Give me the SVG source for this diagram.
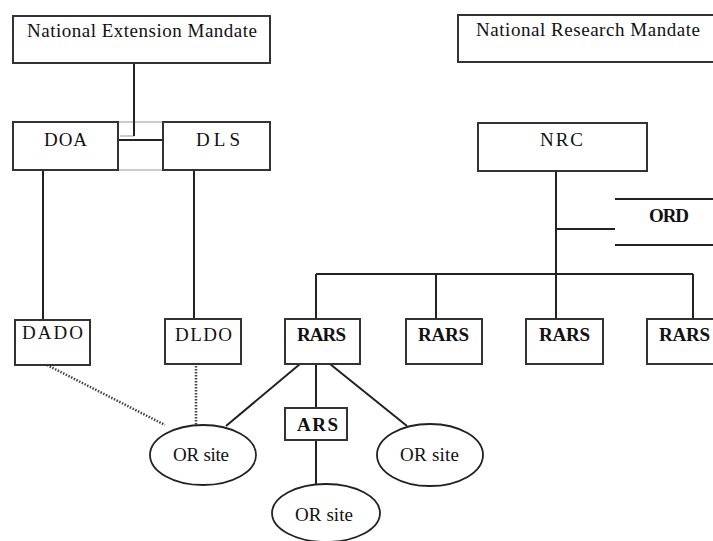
<svg xmlns="http://www.w3.org/2000/svg" width="713" height="541" viewBox="0 0 713 541">
<style>
.box{fill:#fff;stroke:#333;stroke-width:2}
.ell{fill:#fff;stroke:#222;stroke-width:1.8}
.ln{stroke:#222;stroke-width:2;fill:none}
.dot{stroke:#444;stroke-width:2.5;stroke-dasharray:1.5 1.5;fill:none}
.gr{stroke:#bbb;stroke-width:1.5;fill:none}
text{font-family:"Liberation Serif","DejaVu Serif","Times New Roman",serif;fill:#111}
.t{font-size:19px}
.b{font-size:19px;font-weight:bold}
</style>
<rect width="713" height="541" fill="#fff"/>
<g id="connectors">
<path class="gr" d="M118 122 H163 M118 170 H163 M120 136 H134"/>
<path class="ln" d="M134 63 V136 M118 140 H163"/>
<path class="ln" d="M43 170 V320 M194 170 V319"/>
<path class="ln" d="M556 171 V274 M556 229 H615 M316 274 H693 M316 274 V319 M436 274 V319 M556 274 V319 M693 274 V319"/>
<path class="ln" d="M316 364 V408 M316 440 V484 M300 364 L226 426 M330 364 L407 426"/>
<path class="dot" d="M47 365 L165 425 M196 366 V425"/>
</g>
<g id="nem"><rect class="box" x="13" y="16" width="257" height="47"/><text class="t" x="27" y="37" textLength="230" font-family="Liberation Serif, serif">National Extension Mandate</text></g>
<g id="nrm"><rect class="box" x="458" y="15" width="260" height="47"/><text class="t" x="476" y="36" textLength="224" font-family="Liberation Serif, serif">National Research Mandate</text></g>
<g id="doa"><rect class="box" x="13" y="122" width="105" height="48"/><text class="t" x="44" y="146" textLength="43" font-family="Liberation Serif, serif">DOA</text></g>
<g id="dls"><rect class="box" x="163" y="122" width="107" height="48"/><text class="t" x="196" y="146" textLength="44" font-family="Liberation Serif, serif">DLS</text></g>
<g id="nrc"><rect class="box" x="478" y="123" width="169" height="48"/><text class="t" x="540" y="146" textLength="43" font-family="Liberation Serif, serif">NRC</text></g>
<g id="ord"><path class="ln" d="M615 199 H713 M615 245 H713"/><text class="b" x="649" y="222" textLength="40" font-family="Liberation Serif, serif">ORD</text></g>
<g id="dado"><rect class="box" x="15" y="320" width="75" height="45"/><text class="t" x="22" y="339" textLength="61" font-family="Liberation Serif, serif">DADO</text></g>
<g id="dldo"><rect class="box" x="165" y="319" width="76" height="45"/><text class="t" x="175" y="341" textLength="57" font-family="Liberation Serif, serif">DLDO</text></g>
<g id="rars1"><rect class="box" x="285" y="319" width="75" height="45"/><text class="b" x="297" y="341" textLength="49" font-family="Liberation Serif, serif">RARS</text></g>
<g id="rars2"><rect class="box" x="406" y="319" width="76" height="45"/><text class="b" x="418" y="341" textLength="51" font-family="Liberation Serif, serif">RARS</text></g>
<g id="rars3"><rect class="box" x="526" y="319" width="77" height="45"/><text class="b" x="539" y="341" textLength="51" font-family="Liberation Serif, serif">RARS</text></g>
<g id="rars4"><rect class="box" x="647" y="319" width="80" height="45"/><text class="b" x="659" y="341" textLength="51" font-family="Liberation Serif, serif">RARS</text></g>
<g id="ars"><rect class="box" x="285" y="408" width="62" height="32"/><text class="b" x="297" y="431" textLength="41" font-family="Liberation Serif, serif">ARS</text></g>
<g id="or1"><ellipse class="ell" cx="203" cy="455" rx="53" ry="30"/><text class="t" x="173" y="461" textLength="56" font-family="Liberation Serif, serif">OR site</text></g>
<g id="or2"><ellipse class="ell" cx="326" cy="513" rx="54" ry="29"/><text class="t" x="295" y="521" textLength="58" font-family="Liberation Serif, serif">OR site</text></g>
<g id="or3"><ellipse class="ell" cx="430" cy="455" rx="53" ry="31"/><text class="t" x="400" y="461" textLength="59" font-family="Liberation Serif, serif">OR site</text></g>
</svg>
